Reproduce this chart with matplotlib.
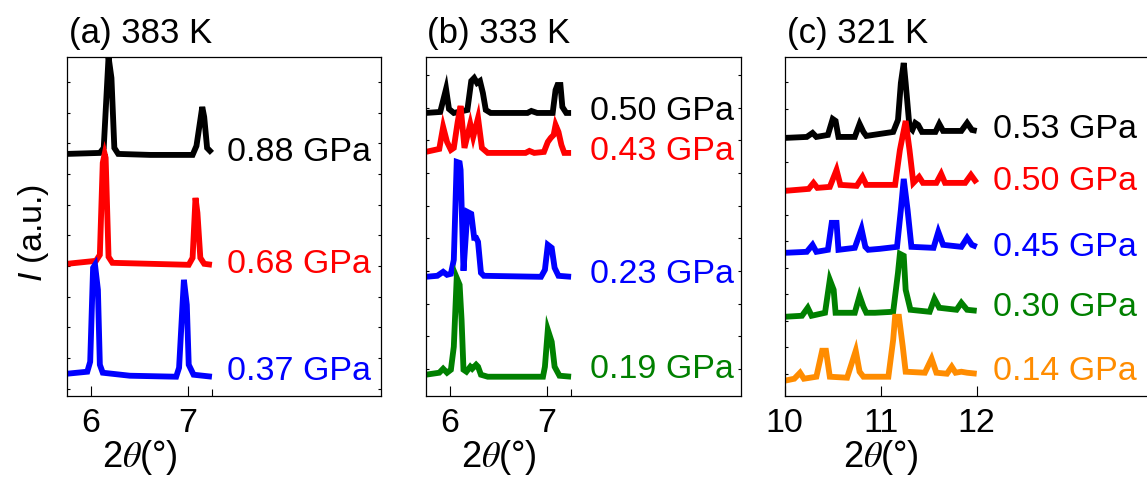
import matplotlib as mpl
mpl.use("Agg")
import matplotlib.pyplot as plt
import matplotlib.transforms as mtransforms
import numpy as np

plt.rcParams["font.family"] = ["Liberation Sans", "DejaVu Sans"]
plt.rcParams["mathtext.fontset"] = "custom"
plt.rcParams["mathtext.it"] = "Liberation Sans:italic"
plt.rcParams["mathtext.rm"] = "Liberation Sans"

# ---- data (2theta in deg, intensity in a.u. incl. stacking offset)
# (a) 383 K
a_labels = ["0.88 GPa", "0.68 GPa", "0.37 GPa"]
a_x_088 = [5.75, 6.09, 6.13, 6.18, 6.21, 6.24, 6.28, 6.61, 7.05, 7.09, 7.15, 7.17, 7.20, 7.25]
a_y_088 = [24.2, 24.3, 24.8, 33.9, 31.8, 24.8, 24.2, 24.1, 24.1, 25.0, 28.9, 27.9, 24.8, 24.3]
a_x_068 = [5.75, 6.05, 6.09, 6.12, 6.14, 6.15, 6.18, 6.22, 7.01, 7.05, 7.08, 7.10, 7.13, 7.17, 7.25]
a_y_068 = [13.2, 13.5, 14.1, 23.3, 24.2, 23.8, 13.9, 13.3, 13.1, 13.8, 19.8, 18.3, 13.8, 13.2, 13.1]
a_x_037 = [5.75, 5.96, 5.99, 6.02, 6.04, 6.07, 6.09, 6.12, 6.40, 6.88, 6.91, 6.96, 6.99, 7.01, 7.06, 7.25]
a_y_037 = [2.2, 2.4, 3.4, 12.8, 13.1, 10.6, 3.1, 2.3, 2.0, 1.9, 2.8, 11.6, 9.1, 3.1, 2.1, 1.9]

# (b) 333 K
b_labels = ["0.50 GPa", "0.43 GPa", "0.23 GPa", "0.19 GPa"]
b_x_050 = [5.75, 5.90, 5.96, 5.99, 6.04, 6.18, 6.22, 6.25, 6.28, 6.31, 6.34, 6.37, 6.42,
           6.80, 6.84, 6.90, 7.06, 7.09, 7.11, 7.14, 7.16, 7.20, 7.25]
b_y_050 = [28.3, 28.4, 30.7, 28.7, 28.3, 28.6, 31.5, 31.8, 31.3, 31.5, 30.3, 28.6, 28.3,
           28.3, 28.5, 28.3, 28.3, 30.6, 31.1, 31.1, 28.9, 28.3, 28.3]
b_x_043 = [5.75, 5.89, 5.93, 5.97, 6.01, 6.04, 6.08, 6.11, 6.15, 6.21, 6.24, 6.29, 6.33, 6.39,
           6.78, 6.82, 6.87, 6.97, 7.01, 7.04, 7.07, 7.09, 7.12, 7.15, 7.18, 7.25]
b_y_043 = [24.4, 24.7, 26.9, 25.4, 24.6, 24.8, 27.4, 29.0, 24.8, 27.2, 25.9, 27.8, 24.8, 24.3,
           24.3, 24.5, 24.3, 24.4, 25.4, 25.8, 26.1, 27.1, 26.4, 25.1, 24.3, 24.3]
b_x_023 = [5.75, 5.87, 5.93, 5.97, 6.01, 6.04, 6.07, 6.10, 6.11, 6.14, 6.18, 6.22, 6.25, 6.27,
           6.29, 6.32, 6.35, 6.94, 6.98, 7.01, 7.05, 7.08, 7.12, 7.25]
b_y_023 = [11.9, 12.0, 12.4, 12.1, 12.2, 13.6, 23.4, 23.3, 22.6, 12.5, 18.4, 18.2, 15.8, 15.8,
           15.4, 12.3, 12.0, 11.9, 12.6, 15.1, 14.8, 12.8, 12.0, 11.9]
b_x_019 = [5.75, 5.89, 5.93, 5.97, 6.01, 6.04, 6.07, 6.10, 6.12, 6.14, 6.17, 6.21, 6.23, 6.27,
           6.29, 6.32, 6.39, 6.96, 6.98, 7.01, 7.05, 7.08, 7.13, 7.25]
b_y_019 = [2.1, 2.3, 2.7, 2.3, 2.6, 4.9, 11.8, 11.1, 7.6, 2.6, 2.4, 2.9, 2.7, 3.1,
           2.9, 2.1, 1.9, 1.9, 2.9, 6.6, 5.4, 2.9, 2.0, 1.9]

# (c) 321 K
c_labels = ["0.53 GPa", "0.50 GPa", "0.45 GPa", "0.30 GPa", "0.14 GPa"]
c_x_053 = [10.0, 10.23, 10.29, 10.33, 10.45, 10.50, 10.53, 10.56, 10.73, 10.78, 10.82, 10.85,
           11.13, 11.18, 11.21, 11.24, 11.26, 11.30, 11.33, 11.36, 11.39, 11.43, 11.57, 11.61,
           11.65, 11.84, 11.90, 11.95, 12.0]
c_y_053 = [25.8, 25.9, 26.3, 25.9, 26.1, 27.7, 27.5, 25.9, 25.9, 27.2, 26.4, 26.0,
           26.4, 27.6, 31.3, 33.3, 31.3, 26.9, 26.6, 27.3, 27.1, 26.4, 26.4, 27.2,
           26.5, 26.5, 27.3, 26.6, 26.5]
c_x_050 = [10.0, 10.25, 10.30, 10.34, 10.47, 10.54, 10.58, 10.75, 10.81, 10.85, 11.15, 11.20,
           11.26, 11.30, 11.34, 11.40, 11.44, 11.58, 11.63, 11.67, 11.88, 11.94, 12.0]
c_y_050 = [20.5, 20.7, 21.3, 20.8, 20.9, 22.6, 21.1, 21.0, 21.9, 21.1, 21.1, 24.6,
           27.5, 24.6, 21.3, 21.9, 21.3, 21.3, 22.2, 21.3, 21.3, 22.1, 21.3]
c_x_045 = [10.0, 10.23, 10.29, 10.33, 10.45, 10.49, 10.54, 10.56, 10.73, 10.80, 10.84, 10.87,
           10.99, 11.17, 11.21, 11.24, 11.28, 11.32, 11.55, 11.60, 11.65, 11.84, 11.90,
           11.95, 12.0]
c_y_045 = [14.3, 14.4, 15.1, 14.4, 14.6, 17.3, 17.3, 14.6, 14.8, 16.7, 14.9, 14.6,
           14.7, 14.9, 18.6, 21.7, 18.6, 14.9, 14.8, 16.4, 15.1, 14.9, 15.8,
           15.1, 14.9]
c_x_030 = [10.0, 10.18, 10.24, 10.28, 10.42, 10.47, 10.51, 10.53, 10.73, 10.78, 10.82, 10.85,
           10.94, 11.13, 11.18, 11.20, 11.24, 11.26, 11.31, 11.51, 11.56, 11.61, 11.79,
           11.84, 11.90, 12.0]
c_y_030 = [7.9, 8.0, 8.8, 8.0, 8.3, 11.6, 10.6, 8.3, 8.3, 10.0, 8.9, 8.3,
           8.3, 8.4, 12.3, 14.2, 14.0, 10.6, 8.6, 8.4, 9.7, 8.8, 8.6,
           9.3, 8.6, 8.5]
c_x_014 = [10.0, 10.10, 10.16, 10.20, 10.33, 10.39, 10.43, 10.47, 10.65, 10.70, 10.74, 10.78,
           10.82, 11.08, 11.13, 11.15, 11.19, 11.23, 11.26, 11.46, 11.53, 11.58, 11.69,
           11.74, 11.78, 11.84, 11.90, 12.0]
c_y_014 = [1.5, 1.7, 2.3, 1.7, 1.9, 4.5, 4.5, 1.9, 1.8, 3.3, 4.5, 2.4,
           1.9, 1.9, 5.6, 7.9, 7.9, 4.9, 2.4, 2.3, 3.7, 2.3, 2.2,
           2.9, 2.3, 2.4, 2.3, 2.2]

colors3 = ["black", "red", "blue"]
colors4 = ["black", "red", "blue", "green"]
colors5 = ["black", "red", "blue", "green", "darkorange"]

panels = [
    dict(title="(a) 383 K", xs=[a_x_088, a_x_068, a_x_037], ys=[a_y_088, a_y_068, a_y_037],
         labels=a_labels, colors=colors3, xlim=(5.75, 9.0), xticks=[6, 7], minor=[7.25],
         label_x=7.41, label_y=[24.3, 13.1, 2.4], xlab_x=6.5, yt0=0.7, ytstep=3.07),
    dict(title="(b) 333 K", xs=[b_x_050, b_x_043, b_x_023, b_x_019],
         ys=[b_y_050, b_y_043, b_y_023, b_y_019],
         labels=b_labels, colors=colors4, xlim=(5.75, 9.0), xticks=[6, 7], minor=[7.25],
         label_x=7.44, label_y=[28.4, 24.4, 12.1, 2.6], xlab_x=6.5, yt0=2.67, ytstep=3.27),
    dict(title="(c) 321 K", xs=[c_x_053, c_x_050, c_x_045, c_x_030, c_x_014],
         ys=[c_y_053, c_y_050, c_y_045, c_y_030, c_y_014],
         labels=c_labels, colors=colors5, xlim=(10.0, 14.0), xticks=[10, 11, 12], minor=[],
         label_x=12.17, label_y=[26.6, 21.4, 14.8, 8.8, 2.4], xlab_x=11.0, yt0=2.2, ytstep=2.65),
]

W, H = 1147, 479
fig = plt.figure(figsize=(W / 100, H / 100), dpi=100)
boxes = [(67, 381), (425.7, 740.7), (784.7, 1168.7)]
top, bottom = 57, 395.7

for p, (l, r) in zip(panels, boxes):
    ax = fig.add_axes([l / W, 1 - bottom / H, (r - l) / W, (bottom - top) / H])
    for x, y, c in zip(p["xs"], p["ys"], p["colors"]):
        ax.plot(x, y, color=c, lw=4.2, solid_joinstyle="miter", solid_capstyle="butt")
    for lab, ly, c in zip(p["labels"], p["label_y"], p["colors"]):
        ax.text(p["label_x"], ly, lab, color=c, fontsize=24.5, va="center", ha="left")
    ax.set_xlim(*p["xlim"])
    ax.set_ylim(0, 33.9)
    ax.set_xticks(p["xticks"])
    ax.set_xticks(p["minor"], minor=True)
    ax.set_yticks(np.arange(p["yt0"], 33.9, p["ytstep"]))
    ax.set_yticklabels([])
    ax.tick_params(axis="x", which="major", direction="in", length=7, width=0.8,
                   labelsize=24.5, pad=9, top=False)
    ax.tick_params(axis="x", which="minor", direction="in", length=5, width=0.8, top=False)
    ax.tick_params(axis="y", direction="in", length=2.5, width=0.8, left=True, right=True)
    for s in ax.spines.values():
        s.set_linewidth(0.9)
    ax.text(0.005, 1.07, p["title"], transform=ax.transAxes, fontsize=25, va="center", ha="left")
    ax.set_xlabel(r"2$\theta$(°)", fontsize=26, math_fontfamily="stix")
    tr = mtransforms.blended_transform_factory(ax.transData, ax.transAxes)
    ax.xaxis.set_label_coords(p["xlab_x"], -0.125, transform=tr)
    if p["title"].startswith("(a)"):
        ax.set_ylabel(r"$I$ (a.u.)", fontsize=24.5)
        ax.yaxis.set_label_coords(-0.05, 0.48)

fig.savefig("out.png", dpi=100)
